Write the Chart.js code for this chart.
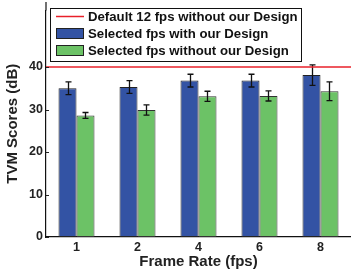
<!DOCTYPE html>
<html>
<head>
<meta charset="utf-8">
<script src="https://cdn.jsdelivr.net/npm/chart.js@4"></script>
<style>
  html, body { margin: 0; padding: 0; background: #fff; }
  #wrap { width: 351px; height: 273px; }
</style>
</head>
<body>
<div id="wrap"><canvas id="chart1" width="351" height="273"></canvas></div>
<script>
// data
var frameRates = ['1', '2', '4', '6', '8'];
var withDesign = [35.0, 35.3, 36.8, 36.8, 38.1];
var withDesignErr = [1.5, 1.5, 1.5, 1.5, 2.4];
var withoutDesign = [28.6, 29.9, 33.1, 33.2, 34.3];
var withoutDesignErr = [0.7, 1.2, 1.2, 1.2, 2.2];
var defaultFps = 40;
var yTicks = [0, 10, 20, 30, 40];

var labelDefault = 'Default 12 fps without our Design';
var labelWith = 'Selected fps with our Design';
var labelWithout = 'Selected fps without our Design';

var blue = '#3353a4';
var green = '#6cc266';
var red = '#e8202a';
var fontFam = 'Liberation Sans, Arial, sans-serif';

// error bars, red reference line, axis ticks and the boxed legend
const extras = {
    id: 'extras',
    afterDatasetsDraw: function (chart) {
        var ctx = chart.ctx;
        var y = chart.scales.y;
        var area = chart.chartArea;
        var errs = [withDesignErr, withoutDesignErr];

        ctx.save();
        ctx.strokeStyle = '#111';
        ctx.lineWidth = 1.3;
        for (var d = 0; d < 2; d++) {
            var meta = chart.getDatasetMeta(d);
            var vals = chart.data.datasets[d].data;
            for (var i = 0; i < meta.data.length; i++) {
                var x = Math.round(meta.data[i].x) + 0.5;
                var top = y.getPixelForValue(vals[i] + errs[d][i]);
                var bot = y.getPixelForValue(vals[i] - errs[d][i]);
                ctx.beginPath();
                ctx.moveTo(x, top); ctx.lineTo(x, bot);
                ctx.moveTo(x - 3, top); ctx.lineTo(x + 3, top);
                ctx.moveTo(x - 3, bot); ctx.lineTo(x + 3, bot);
                ctx.stroke();
            }
        }

        // reference line
        var ry = y.getPixelForValue(defaultFps);
        ctx.strokeStyle = red;
        ctx.lineWidth = 1.5;
        ctx.beginPath();
        ctx.moveTo(area.left, ry);
        ctx.lineTo(area.right, ry);
        ctx.stroke();

        // inward y ticks, and the axis line running up to the top edge
        ctx.strokeStyle = '#222';
        ctx.lineWidth = 1;
        for (var t = 0; t < yTicks.length; t++) {
            var ty = Math.round(y.getPixelForValue(yTicks[t])) + 0.5;
            ctx.beginPath();
            ctx.moveTo(area.left, ty);
            ctx.lineTo(area.left + 3, ty);
            ctx.stroke();
        }
        ctx.strokeStyle = '#111';
        ctx.lineWidth = 1.2;
        ctx.beginPath();
        ctx.moveTo(area.left, area.top);
        ctx.lineTo(area.left, 2);
        ctx.stroke();

        // legend box
        ctx.fillStyle = '#fff';
        ctx.fillRect(50, 8, 251, 53);
        ctx.strokeStyle = '#111';
        ctx.lineWidth = 1;
        ctx.strokeRect(50.5, 8.5, 251, 53);

        ctx.strokeStyle = red;
        ctx.lineWidth = 1.5;
        ctx.beginPath();
        ctx.moveTo(56, 16.5);
        ctx.lineTo(84, 16.5);
        ctx.stroke();

        ctx.lineWidth = 1;
        ctx.strokeStyle = '#222';
        ctx.fillStyle = blue;
        ctx.fillRect(56, 28, 28, 11);
        ctx.strokeRect(56.5, 28.5, 27, 10);
        ctx.fillStyle = green;
        ctx.fillRect(56, 45, 28, 11);
        ctx.strokeRect(56.5, 45.5, 27, 10);

        ctx.fillStyle = '#111';
        ctx.font = 'bold 13.2px ' + fontFam;
        ctx.textBaseline = 'middle';
        ctx.textAlign = 'left';
        ctx.fillText(labelDefault, 88, 17);
        ctx.fillText(labelWith, 88, 34);
        ctx.fillText(labelWithout, 88, 51);
        ctx.restore();
    }
};

const dat = {
    labels: frameRates,
    datasets: [{
        label: labelWith,
        data: withDesign,
        backgroundColor: blue,
        borderColor: '#222',
        borderWidth: 1,
        borderSkipped: false
    }, {
        label: labelWithout,
        data: withoutDesign,
        backgroundColor: green,
        borderColor: '#333',
        borderWidth: 1,
        borderSkipped: false
    }]
};

const config = {
    type: 'bar',
    data: dat,
    options: {
        responsive: false,
        animation: false,
        datasets: {
            bar: { barPercentage: 1, categoryPercentage: 0.59 }
        },
        plugins: {
            legend: { display: false },
            tooltip: { enabled: false }
        },
        scales: {
            x: {
                grid: { display: false, drawTicks: false },
                border: { color: '#111', width: 1.2 },
                ticks: {
                    color: '#222',
                    font: { family: fontFam, size: 12.5, weight: 'bold' },
                    padding: 3
                },
                title: {
                    display: true,
                    text: 'Frame Rate (fps)',
                    color: '#222',
                    font: { family: fontFam, size: 15, weight: 'bold' },
                    padding: { top: 0, bottom: 2 }
                },
                afterFit: function (scale) { scale.height = 36; }
            },
            y: {
                min: 0,
                max: 53.3,
                grid: { display: false, drawTicks: false },
                border: { color: '#111', width: 1.2 },
                afterBuildTicks: function (scale) {
                    scale.ticks = yTicks.map(function (v) { return { value: v }; });
                },
                ticks: {
                    color: '#222',
                    font: { family: fontFam, size: 12.5, weight: 'bold' },
                    padding: 3
                },
                title: {
                    display: true,
                    text: 'TVM Scores (dB)',
                    color: '#222',
                    font: { family: fontFam, size: 15, weight: 'bold' },
                    padding: { top: 4, bottom: 2 }
                },
                afterFit: function (scale) { scale.width = 46; }
            }
        }
    },
    plugins: [extras]
};

const myChart = new Chart(
    document.getElementById('chart1'),
    config
);
</script>
</body>
</html>
